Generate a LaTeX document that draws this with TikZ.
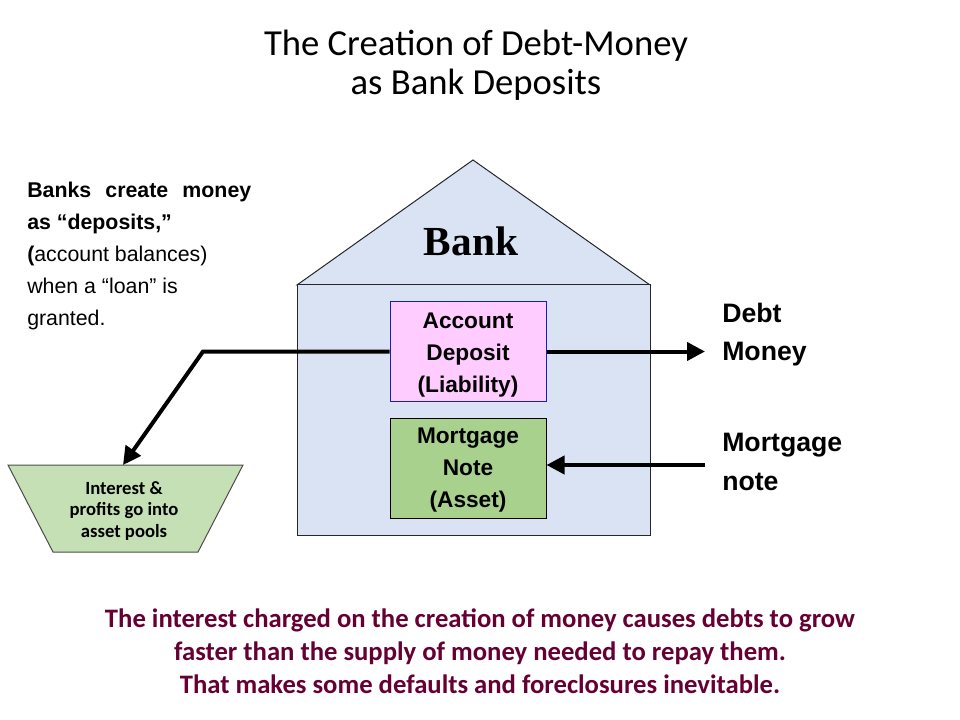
\documentclass[tikz,border=0pt]{standalone}
\usepackage{fontspec}
\setmainfont{Liberation Sans}
\newfontfamily\carlito{Carlito}
\newfontfamily\timesf{Liberation Serif}
\usetikzlibrary{arrows.meta}
\definecolor{housefill}{RGB}{218,227,243}
\definecolor{depfill}{RGB}{255,204,255}
\definecolor{depline}{RGB}{30,30,170}
\definecolor{mortfill}{RGB}{169,209,142}
\definecolor{poolfill}{RGB}{197,224,180}
\definecolor{maroon}{RGB}{102,0,51}
\begin{document}
\begin{tikzpicture}[x=0.75pt,y=-0.75pt,
  house/.style={draw=black!85, line width=0.75pt, fill=housefill},
  conn/.style={line width=3pt},
  tipend/.style={-{Triangle[length=13.5pt,width=13.5pt]}},
  acctbox/.style={line width=0.75pt, minimum width=117pt, inner sep=0pt, align=center,
     font=\fontsize{17}{24}\selectfont\bfseries},
  titletxt/.style={font=\carlito\fontsize{27.5}{29}\selectfont, align=center, inner sep=0pt},
  sidetxt/.style={font=\fontsize{20}{29}\selectfont\bfseries, align=left, inner sep=0pt, anchor=west},
  lefttxt/.style={font=\fontsize{16}{24}\selectfont, align=left, inner sep=0pt, anchor=north west},
  pooltxt/.style={font=\carlito\fontsize{14}{16}\selectfont\bfseries, align=center, inner sep=0pt},
  bottomtxt/.style={font=\carlito\fontsize{20}{24.75}\selectfont\bfseries, align=center, inner sep=0pt, text=maroon}
]
\useasboundingbox (0,0) rectangle (960,720);

% title
\node[titletxt] (title) at (476,65) {The Creation of Debt-Money\\as Bank Deposits};

% house
\draw[house] (297,285) -- (473,160) -- (650,285) -- cycle;
\draw[house] (297,285) rectangle (650,535);
\node[font=\timesf\fontsize{31}{34}\selectfont\bfseries, inner sep=0pt] (bank) at (471,241) {Bank};

% boxes
\node[acctbox, draw=depline, fill=depfill, minimum height=74.25pt] (dep) at (468,351.5)
  {\rule{0pt}{17pt}Account\\Deposit\\(Liability)};
\node[acctbox, draw=black, fill=mortfill, minimum height=75pt] (mort) at (468,468)
  {\rule{0pt}{15pt}Mortgage\\Note\\(Asset)};

% side labels
\node[sidetxt] (debt) at (722,334.5) {Debt\\Money};
\node[sidetxt] (mnote) at (722,462) {Mortgage\\note};

% left text
\node[lefttxt] (expl) at (27,182) {\textbf{\makebox[168pt][s]{Banks create money}}\\
  \textbf{as “deposits,”}\\
  \textbf{(}account balances)\\
  when a “loan” is\\
  granted.};

% pool
\draw[draw=black!70, line width=0.75pt, fill=poolfill] (8,465) -- (243,465) -- (198,552) -- (53,552) -- cycle;
\node[pooltxt] (pool) at (124,511) {Interest \&\\profits go into\\asset pools};

% connectors
\coordinate (bend) at (203,351.5);
\coordinate (pooltip) at (123,465);
\coordinate (dmtip) at (705,351.5);
\coordinate (mnstart) at (705,465);
\draw[conn, tipend] (dep.west) -- (bend) -- (pooltip);
\draw[conn, tipend] (dep.east) -- (dmtip);
\draw[conn, tipend] (mnstart) -- (mort.east |- mnstart);

% bottom text
\node[bottomtxt] (concl) at (480,651) {The interest charged on the creation of money causes debts to grow\\
faster than the supply of money needed to repay them.\\
That makes some defaults and foreclosures inevitable.};
\end{tikzpicture}
\end{document}
